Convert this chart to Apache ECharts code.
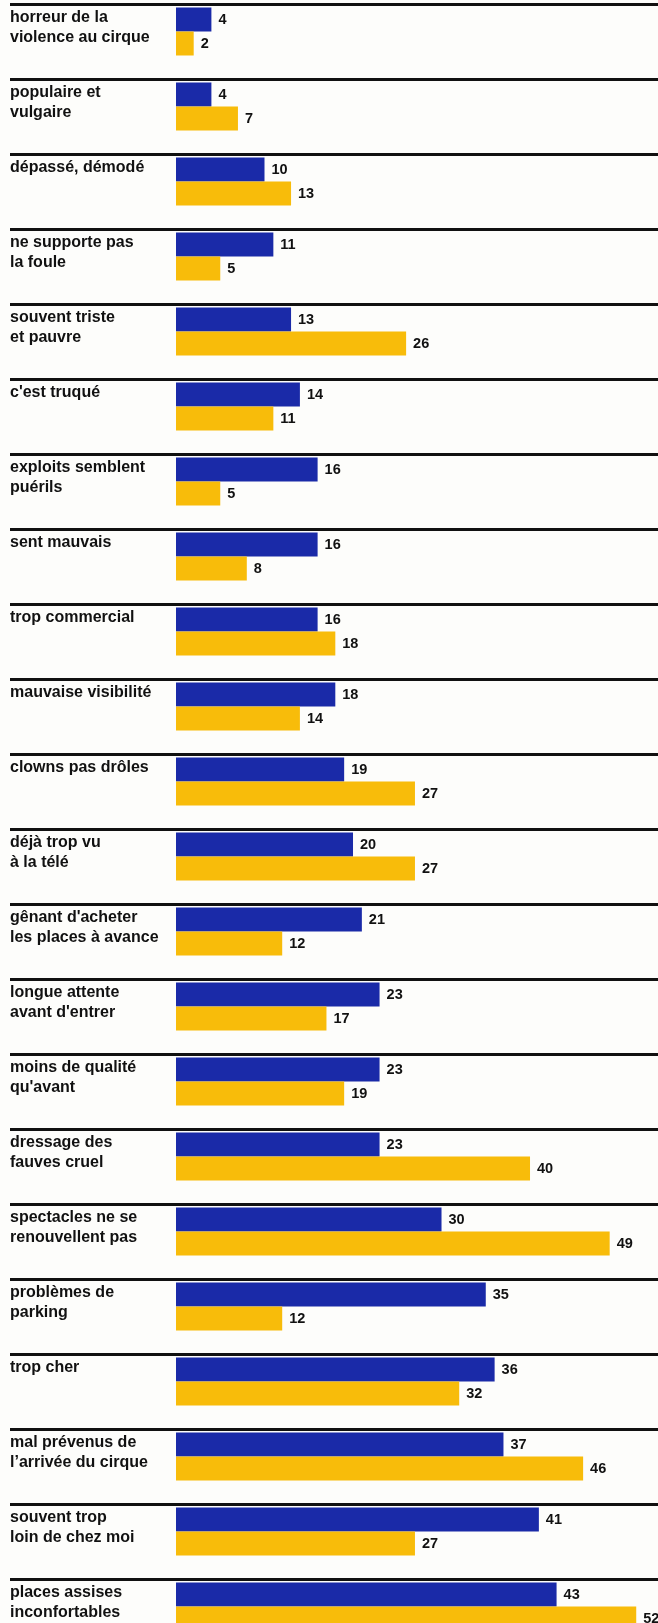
<!DOCTYPE html>
<html>
<head>
<meta charset="utf-8">
<script src="https://cdn.jsdelivr.net/npm/echarts@6/dist/echarts.min.js"></script>
<style>
  html, body { margin: 0; padding: 0; background: #fdfdfb; }
  #chart { width: 658px; height: 1623px; }
</style>
</head>
<body>
<div id="chart"></div>
<script>
// Reasons given for not going to the circus (%), two groups of respondents
const categories = [
  'horreur de la\nviolence au cirque',
  'populaire et\nvulgaire',
  'dépassé, démodé',
  'ne supporte pas\nla foule',
  'souvent triste\net pauvre',
  "c'est truqué",
  'exploits semblent\npuérils',
  'sent mauvais',
  'trop commercial',
  'mauvaise visibilité',
  'clowns pas drôles',
  'déjà trop vu\nà la télé',
  "gênant d'acheter\nles places à avance",
  "longue attente\navant d'entrer",
  "moins de qualité\nqu'avant",
  'dressage des\nfauves cruel',
  'spectacles ne se\nrenouvellent pas',
  'problèmes de\nparking',
  'trop cher',
  'mal prévenus de\nl’arrivée du cirque',
  'souvent trop\nloin de chez moi',
  'places assises\ninconfortables'
];
const blueValues = [4, 4, 10, 11, 13, 14, 16, 16, 16, 18, 19, 20, 21, 23, 23, 23, 30, 35, 36, 37, 41, 43];
const yellowValues = [2, 7, 13, 5, 26, 11, 5, 8, 18, 14, 27, 27, 12, 17, 19, 40, 49, 12, 32, 46, 27, 52];

const FONT = "'Liberation Sans', Arial, Helvetica, sans-serif";
const ROW = 75;
const RULE_TOP = 4.5;
const BAND_H = ROW * categories.length;

const valueLabel = {
  show: true,
  position: 'right',
  distance: 7,
  color: '#111',
  fontFamily: FONT,
  fontWeight: 'bold',
  fontSize: 14.5
};

const hiddenCategoryAxis = (gridIndex) => ({
  gridIndex,
  type: 'category',
  inverse: true,
  data: categories,
  axisLine: { show: false },
  axisTick: { show: false },
  axisLabel: { show: false },
  splitLine: { show: false }
});

const chart = echarts.init(document.getElementById('chart'), null, { renderer: 'canvas' });
chart.setOption({
  animation: false,
  backgroundColor: '#fdfdfb',
  grid: [
    // rules across the full width, one at the top of every row
    { left: 10, right: 0, top: RULE_TOP, height: BAND_H, containLabel: false, outerBoundsMode: 'none' },
    // bars
    { left: 176, right: 0, top: RULE_TOP - 10.5, height: BAND_H, containLabel: false, outerBoundsMode: 'none' },
    // row labels, set just under each rule
    { left: 176, right: 0, top: RULE_TOP - 14.5, height: BAND_H, containLabel: false, outerBoundsMode: 'none' }
  ],
  xAxis: [
    { gridIndex: 0, type: 'value', min: 0, max: 1, show: false },
    { gridIndex: 1, type: 'value', min: 0, max: 54.46, show: false },
    { gridIndex: 2, type: 'value', min: 0, max: 1, show: false }
  ],
  yAxis: [
    Object.assign(hiddenCategoryAxis(0), {
      splitLine: { show: true, interval: 0, lineStyle: { color: '#111', width: 3, type: 'solid' } }
    }),
    hiddenCategoryAxis(1),
    Object.assign(hiddenCategoryAxis(2), {
      axisLabel: {
        show: true,
        interval: 0,
        align: 'left',
        verticalAlign: 'middle',
        margin: 166,
        color: '#111',
        fontFamily: FONT,
        fontWeight: 'bold',
        fontSize: 16,
        lineHeight: 19.5,
        // keep every label two lines tall so the first line sits at the same height
        formatter: (v) => (v.indexOf('\n') === -1 ? v + '\n' : v)
      }
    })
  ],
  series: [
    {
      name: 'bleu',
      type: 'bar',
      xAxisIndex: 1,
      yAxisIndex: 1,
      data: blueValues,
      barWidth: 24,
      barGap: '0%',
      itemStyle: { color: '#1a2aa8' },
      label: valueLabel
    },
    {
      name: 'jaune',
      type: 'bar',
      xAxisIndex: 1,
      yAxisIndex: 1,
      data: yellowValues,
      barWidth: 24,
      barGap: '0%',
      itemStyle: { color: '#f8bc0a' },
      label: valueLabel
    }
  ]
});
</script>
</body>
</html>
